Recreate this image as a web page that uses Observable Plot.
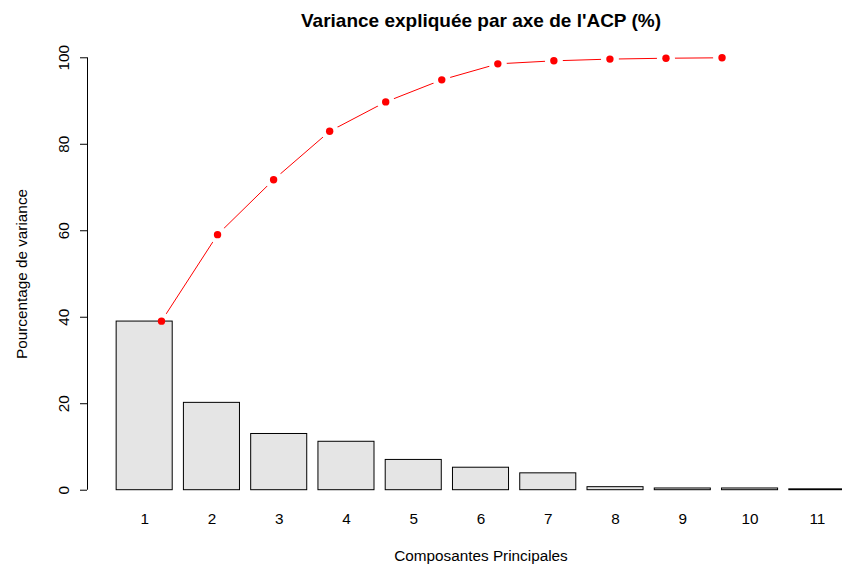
<!DOCTYPE html>
<html>
<head>
<meta charset="utf-8">
<script src="https://cdn.jsdelivr.net/npm/d3@7"></script>
<script src="https://cdn.jsdelivr.net/npm/@observablehq/plot@0.6"></script>
<style>
  body { margin: 0; background: #fff; }
  #chart svg { font-family: "Liberation Sans", Arial, Helvetica, sans-serif; background: #fff; }
</style>
</head>
<body>
<div id="chart"></div>
<script>
// Principal components and the share of variance each one explains (%)
const components = ["1", "2", "3", "4", "5", "6", "7", "8", "9", "10", "11"];
const variancePct = [39.0, 20.2, 13.0, 11.2, 7.0, 5.2, 3.9, 0.7, 0.4, 0.4, 0.2];
// Cumulative explained variance (%), plotted at positions 1..11
const cumulativePct = [39.1, 59.1, 71.8, 83.0, 89.8, 94.9, 98.6, 99.3, 99.7, 99.9, 100.0];
const yTicks = [0, 20, 40, 60, 80, 100];

const title = "Variance expliquée par axe de l'ACP (%)";
const xTitle = "Composantes Principales";
const yTitle = "Pourcentage de variance";

// Bar layout in the style of R's barplot(): width 1, gap 0.2
const barWidth = 1, barSpace = 0.2;
const bars = components.map((label, i) => {
  const x1 = barSpace + i * (barWidth + barSpace);
  return { label, x1, x2: x1 + barWidth, xc: x1 + barWidth / 2, value: variancePct[i] };
});
const cumul = cumulativePct.map((value, i) => ({ k: i + 1, value }));

// 4% padding on both axes, like R's default "r" axis style
const xMin = bars[0].x1, xMax = bars[bars.length - 1].x2;
const xPad = 0.04 * (xMax - xMin);
const yMin = yTicks[0], yMax = yTicks[yTicks.length - 1];
const yPad = 0.04 * (yMax - yMin);

const fontSize = 15.3;

const chart = Plot.plot({
  width: 842,
  height: 567,
  marginLeft: 87,
  marginRight: -32,
  marginTop: 40,
  marginBottom: 60,
  x: { domain: [xMin - xPad, xMax + xPad], axis: null },
  y: { domain: [yMin - yPad, yMax + yPad], axis: null },
  marks: [
    // y axis: line, ticks and rotated labels
    Plot.ruleX([xMin - xPad], { y1: yMin, y2: yMax, stroke: "#000", strokeWidth: 1 }),
    Plot.axisY(yTicks, {
      anchor: "left",
      label: null,
      tickSize: 7,
      tickPadding: 12,
      tickRotate: -90,
      fontSize,
      stroke: "#000",
      fill: "#000"
    }),
    // cumulative line, with white halos leaving gaps around each point
    Plot.line(cumul, { x: "k", y: "value", stroke: "#ff0000", strokeWidth: 1 }),
    Plot.dot(cumul, { x: "k", y: "value", r: 9, fill: "#fff", stroke: "none" }),
    // bars
    Plot.rectY(bars, { x1: "x1", x2: "x2", y1: 0, y2: "value", fill: "#e5e5e5", stroke: "#000", strokeWidth: 1 }),
    // cumulative points
    Plot.dot(cumul, { x: "k", y: "value", r: 3.7, fill: "#ff0000", stroke: "none" }),
    // bar names
    Plot.text(bars, { x: "xc", text: "label", frameAnchor: "bottom", lineAnchor: "middle", dy: 12, fontSize, fill: "#000" }),
    // titles
    Plot.text([xTitle], { frameAnchor: "bottom", lineAnchor: "middle", dy: 49, fontSize, fill: "#000" }),
    Plot.text([yTitle], { frameAnchor: "left", textAnchor: "middle", lineAnchor: "middle", dx: -65, rotate: -90, fontSize, fill: "#000" }),
    Plot.text([title], { frameAnchor: "top", lineAnchor: "middle", dy: -20, fontSize: 19, fontWeight: "bold", fill: "#000" })
  ]
});

document.getElementById("chart").appendChild(chart);
</script>
</body>
</html>
